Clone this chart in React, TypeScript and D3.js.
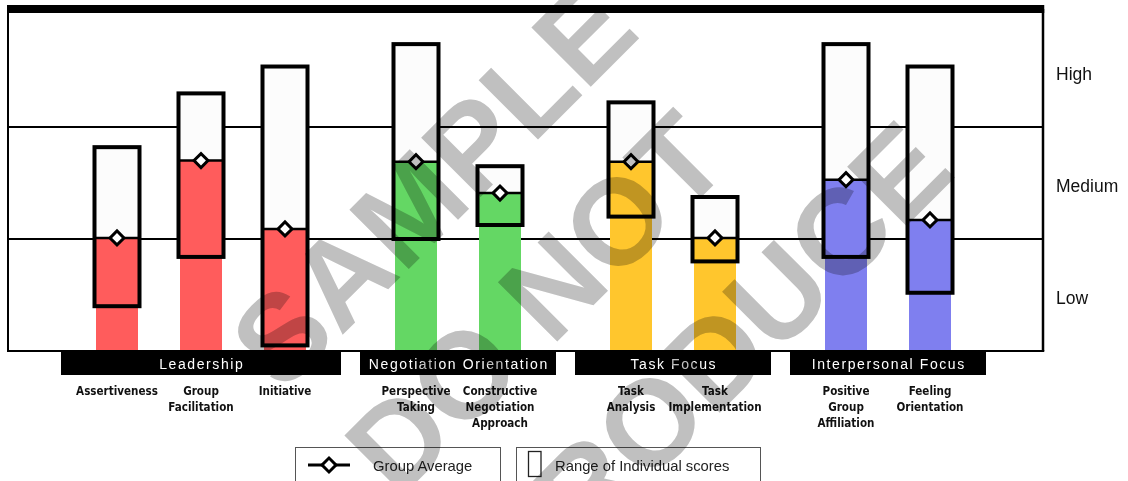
import React from "react";
import * as d3 from "d3";

// ---- data ----
const groups = ["Leadership", "Negotiation Orientation", "Task Focus", "Interpersonal Focus"];
const groupColors = ["#ff5c5c", "#64d764", "#ffc62d", "#7f7fef"];
const categories = [
  "Assertiveness",
  "Group Facilitation",
  "Initiative",
  "Perspective Taking",
  "Constructive Negotiation Approach",
  "Task Analysis",
  "Task Implementation",
  "Positive Group Affiliation",
  "Feeling Orientation",
];
const categoryLines = [
  ["Assertiveness"],
  ["Group", "Facilitation"],
  ["Initiative"],
  ["Perspective", "Taking"],
  ["Constructive", "Negotiation", "Approach"],
  ["Task", "Analysis"],
  ["Task", "Implementation"],
  ["Positive", "Group", "Affiliation"],
  ["Feeling", "Orientation"],
];
const categoryGroup = [0, 0, 0, 1, 1, 2, 2, 3, 3];
const groupAverage = [1.01, 1.7, 1.09, 1.69, 1.41, 1.69, 1.01, 1.53, 1.17];
const rangeLow = [0.4, 0.84, 0.05, 1.0, 1.125, 1.2, 0.8, 0.84, 0.52];
const rangeHigh = [1.82, 2.3, 2.54, 2.74, 1.65, 2.22, 1.375, 2.74, 2.54];
const levelLabels = ["Low", "Medium", "High"];
const legendLabels = ["Group Average", "Range of Individual scores"];
const watermark = ["SAMPLE", "DO NOT", "REPRODUCE"];

const W = 1128;
const H = 481;

export default function App() {
  const frameL = 8;
  const frameR = 1043;
  const y = d3.scaleLinear().domain([0, 3]).range([351, 15]);
  const bottom = y(0);

  // group layout
  const step = 84;
  const gap = 19;
  let gx = 61;
  const groupRanges = groups.map((g, gi) => {
    const n = categoryGroup.filter((c) => c === gi).length;
    const w = step * (n + 1 / 3);
    const r: [number, number] = [gx, gx + w];
    gx += w + gap;
    return r;
  });
  const groupScales = groups.map((g, gi) =>
    d3
      .scalePoint<string>()
      .domain(categories.filter((_, i) => categoryGroup[i] === gi))
      .range(groupRanges[gi])
      .padding(2 / 3)
  );
  const cx = (i: number) => groupScales[categoryGroup[i]](categories[i]) as number;
  const barW = 42;
  const boxW = 45;
  const diamond = d3.symbol(d3.symbolSquare, 98)() as string;

  const catFont = "'DejaVu Sans',sans-serif";
  const sans = "'Liberation Sans',Arial,Helvetica,sans-serif";
  const wmCenters = [
    [440, 192],
    [543, 310],
    [660, 427],
  ];

  return (
    <svg
      width={W}
      height={H}
      style={{ position: "absolute", left: 0, top: 0, background: "#fff" }}
    >
      {/* gridlines */}
      {[1, 2].map((v) => (
        <line key={v} x1={frameL} x2={frameR} y1={y(v)} y2={y(v)} stroke="#000" strokeWidth={2} />
      ))}
      {/* range boxes fill */}
      {categories.map((c, i) => (
        <rect
          key={"bf" + c}
          x={cx(i) - boxW / 2}
          y={y(rangeHigh[i])}
          width={boxW}
          height={y(rangeLow[i]) - y(rangeHigh[i])}
          fill="#fcfcfc"
        />
      ))}
      {/* colored bars */}
      {categories.map((c, i) => (
        <rect
          key={"bar" + c}
          x={cx(i) - barW / 2}
          y={y(groupAverage[i])}
          width={barW}
          height={bottom - y(groupAverage[i])}
          fill={groupColors[categoryGroup[i]]}
        />
      ))}
      {/* average lines */}
      {categories.map((c, i) => (
        <line
          key={"al" + c}
          x1={cx(i) - boxW / 2}
          x2={cx(i) + boxW / 2}
          y1={y(groupAverage[i])}
          y2={y(groupAverage[i])}
          stroke="#000"
          strokeWidth={2.5}
        />
      ))}
      {/* box outlines */}
      {categories.map((c, i) => (
        <rect
          key={"bo" + c}
          x={cx(i) - boxW / 2}
          y={y(rangeHigh[i])}
          width={boxW}
          height={y(rangeLow[i]) - y(rangeHigh[i])}
          fill="none"
          stroke="#000"
          strokeWidth={4}
        />
      ))}
      {/* diamonds */}
      {categories.map((c, i) => (
        <path
          key={"d" + c}
          d={diamond}
          transform={`translate(${cx(i)},${y(groupAverage[i])}) rotate(45)`}
          fill="#fff"
          stroke="#000"
          strokeWidth={3}
        />
      ))}
      {/* frame */}
      <line x1={frameL} x2={frameL} y1={9} y2={bottom} stroke="#000" strokeWidth={2} />
      <line x1={frameR} x2={frameR} y1={9} y2={bottom} stroke="#000" strokeWidth={2.5} />
      <line x1={frameL - 1} x2={frameR + 1.25} y1={bottom} y2={bottom} stroke="#000" strokeWidth={2} />
      <rect x={frameL - 1} y={5} width={frameR - frameL + 2.25} height={8} fill="#000" />

      {/* level labels */}
      {levelLabels.map((l, i) => (
        <text
          key={l}
          x={1056}
          y={y(i + 0.5) + 9}
          fontFamily={sans}
          fontSize={17.5}
          fill="#111"
        >
          {l}
        </text>
      ))}

      {/* group label bars */}
      {groups.map((g, gi) => (
        <g key={g}>
          <rect
            x={groupRanges[gi][0]}
            y={352}
            width={groupRanges[gi][1] - groupRanges[gi][0]}
            height={23}
            fill="#000"
          />
          <text
            x={(groupRanges[gi][0] + groupRanges[gi][1]) / 2 + 0.8}
            y={369}
            textAnchor="middle"
            fontFamily={sans}
            fontSize={14}
            letterSpacing={1.6}
            fill="#fff"
          >
            {g}
          </text>
        </g>
      ))}

      {/* category labels (condensed bold) */}
      {categories.map((c, i) => (
        <g key={"cl" + c} transform={`translate(${cx(i)},0) scale(0.8,1)`}>
          <text
            x={0}
            y={395}
            textAnchor="middle"
            fontFamily={catFont}
            fontWeight="bold"
            fontSize={13}
            fill="#111"
          >
            {categoryLines[i].map((ln, k) => (
              <tspan key={k} x={0} dy={k === 0 ? 0 : 16}>
                {ln}
              </tspan>
            ))}
          </text>
        </g>
      ))}

      {/* legend */}
      <rect x={295.5} y={447.5} width={205} height={45} fill="#fff" stroke="#555" strokeWidth={1} />
      <line x1={308} x2={350} y1={465} y2={465} stroke="#000" strokeWidth={3} />
      <path d={diamond} transform="translate(329,465) rotate(45)" fill="#fff" stroke="#000" strokeWidth={3} />
      <text x={373} y={471} fontFamily={sans} fontSize={14.8} fill="#222">
        {legendLabels[0]}
      </text>
      <rect x={516.5} y={447.5} width={244} height={45} fill="#fff" stroke="#555" strokeWidth={1} />
      <rect x={528.5} y={451.5} width={12.5} height={25} fill="none" stroke="#222" strokeWidth={1.3} />
      <text x={555} y={471} fontFamily={sans} fontSize={14.8} fill="#222">
        {legendLabels[1]}
      </text>

      {/* watermark */}
      <g style={{ mixBlendMode: "multiply", pointerEvents: "none" }}>
        {watermark.map((t, i) => (
          <text
            key={t}
            x={0}
            y={0}
            transform={`translate(${wmCenters[i][0]},${wmCenters[i][1]}) rotate(-45)`}
            textAnchor="middle"
            dominantBaseline="middle"
            fontFamily={sans}
            fontWeight="bold"
            fontSize={122}
            fill="#c0c0c0"
          >
            {t}
          </text>
        ))}
      </g>
    </svg>
  );
}
